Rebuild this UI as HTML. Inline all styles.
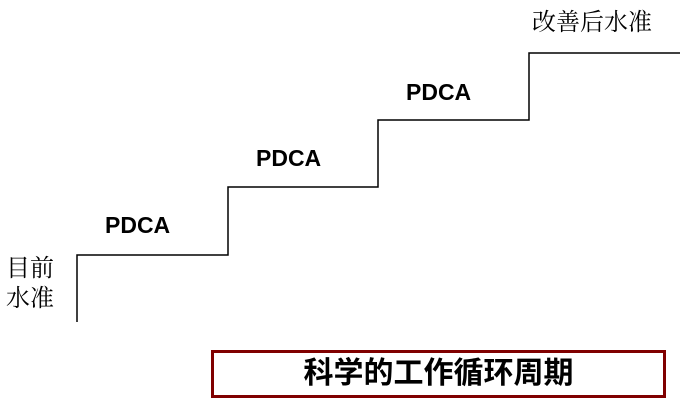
<!DOCTYPE html>
<html><head><meta charset="utf-8"><style>
body{margin:0;width:695px;height:410px;background:#fff;overflow:hidden;position:relative}
.p{position:absolute;font:bold 23px "Liberation Sans",sans-serif;color:#000;line-height:1}
.s{position:absolute;font:24px "Liberation Serif","Noto Serif CJK SC",serif;color:#000;line-height:1.25}
.box{position:absolute;left:211px;top:350px;width:449px;height:42px;border:3px solid #800000;text-align:center;font:bold 30px "Liberation Sans","Noto Sans CJK SC",sans-serif;line-height:42px}
</style></head><body>
<svg width="695" height="410" style="position:absolute;left:0;top:0">
<polyline points="77,322 77,255 228,255 228,187 378,187 378,120 529,120 529,53 680,53" fill="none" stroke="#000" stroke-width="1.5"/>
</svg>
<div class="p" style="left:105px;top:214px">PDCA</div>
<div class="p" style="left:256px;top:147px">PDCA</div>
<div class="p" style="left:406px;top:81px">PDCA</div>
<div class="s" style="left:6px;top:254px">目前<br>水准</div>
<div class="s" style="left:532px;top:8px">改善后水准</div>
<div class="box">科学的工作循环周期</div>
</body></html>
